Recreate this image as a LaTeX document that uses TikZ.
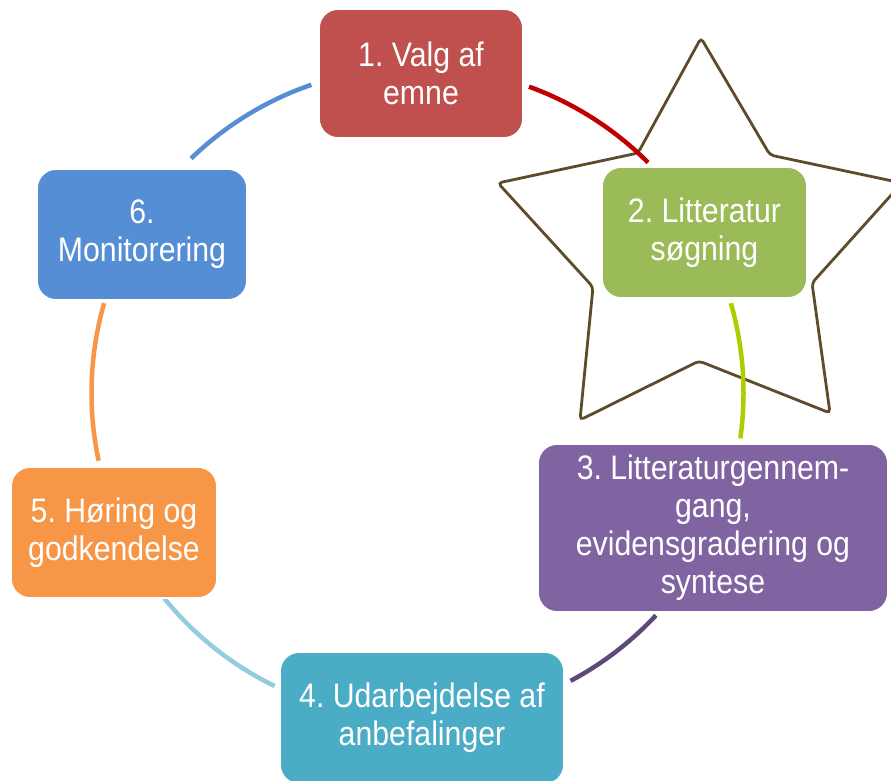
\documentclass[tikz,border=0pt]{standalone}
\usepackage{fontspec}
\setmainfont{Liberation Sans}[FakeStretch=0.89]
\usetikzlibrary{calc}
\definecolor{cRed}{HTML}{C0504D}
\definecolor{cGreen}{HTML}{9BBB59}
\definecolor{cPurple}{HTML}{8064A2}
\definecolor{cTeal}{HTML}{4BACC6}
\definecolor{cOrange}{HTML}{F79646}
\definecolor{cBlue}{HTML}{558ED5}
\definecolor{aRed}{HTML}{C00000}
\definecolor{aGreen}{HTML}{B0CC00}
\definecolor{aPurple}{HTML}{5F497A}
\definecolor{aLight}{HTML}{93CDDD}
\definecolor{starline}{HTML}{5E4B2C}
\tikzset{
  stepbox/.style={rectangle, rounded corners=19pt, draw=white, line width=1.8pt,
    text=white, align=center, inner sep=0pt,
    font=\fontsize{34}{38}\selectfont\frenchspacing},
  cyclearc/.style={line width=4.5pt},
  staroutline/.style={draw=starline, line width=2.8pt, rounded corners=4pt}
}
\begin{document}
\begin{tikzpicture}[x=1pt,y=-1pt]
\useasboundingbox (0,0) rectangle (891,780);
% star
\draw[staroutline] (701,38) -- (770,155) -- (902,183) -- (812,283) -- (830,413)
  -- (699,361) -- (580,420) -- (593,287) -- (498,183) -- (638,153) -- cycle;
% circle centre
\coordinate (C) at (417.5,393);
\coordinate (s61) at ($(C)+(134:326pt)$);
\coordinate (s12) at ($(C)+(70:326pt)$);
\coordinate (s23) at ($(C)+(16:326pt)$);
\coordinate (s34) at ($(C)+(-43:326pt)$);
\coordinate (s45) at ($(C)+(-116:326pt)$);
\coordinate (s56) at ($(C)+(192:326pt)$);
\draw[cyclearc, draw=cBlue] (s61) arc[start angle=134, end angle=109, radius=326pt];
\draw[cyclearc, draw=aRed] (s12) arc[start angle=70, end angle=45, radius=326pt];
\draw[cyclearc, draw=aGreen] (s23) arc[start angle=16, end angle=-8, radius=326pt];
\draw[cyclearc, draw=aPurple] (s34) arc[start angle=-43, end angle=-62, radius=326pt];
\draw[cyclearc, draw=aLight] (s45) arc[start angle=-116, end angle=-141, radius=326pt];
\draw[cyclearc, draw=cOrange] (s56) arc[start angle=192, end angle=164, radius=326pt];
% boxes
\node[stepbox, fill=cRed, minimum width=204pt, minimum height=129pt] (n1) at (421,73.5) {1. Valg af\\emne};
\node[stepbox, fill=cGreen, minimum width=205pt, minimum height=131pt] (n2) at (704.5,232.5) {2. Litteratur\\søgning};
\node[stepbox, fill=cPurple, minimum width=350pt, minimum height=168pt] (n3) at (713,528) {3. Litteraturgennem-\\gang,\\evidensgradering og\\syntese};
\node[stepbox, fill=cTeal, minimum width=284pt, minimum height=132pt] (n4) at (422,718) {4. Udarbejdelse af\\anbefalinger};
\node[stepbox, fill=cOrange, minimum width=206pt, minimum height=131pt] (n5) at (114,532.5) {5. Høring og\\godkendelse};
\node[stepbox, fill=cBlue, minimum width=210pt, minimum height=131pt] (n6) at (142,234.5) {6.\\Monitorering};
\end{tikzpicture}
\end{document}
